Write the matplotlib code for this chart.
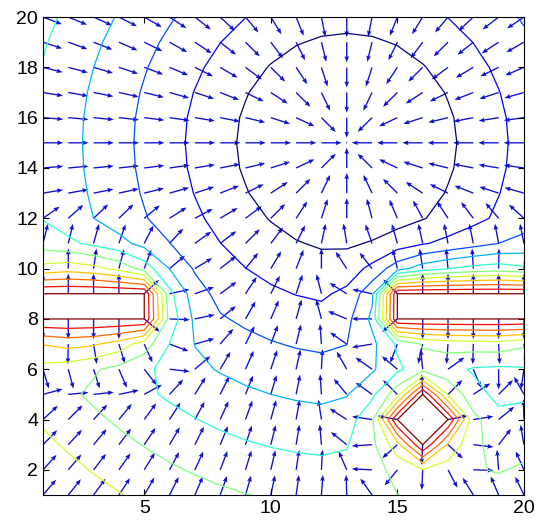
import numpy as np
import matplotlib.pyplot as plt

# grid (1..20 in both directions, step 1)
xs = np.arange(1, 21)
ys = np.arange(1, 21)

# goal and obstacle cells
goal = (13, 15)
left_wall_x = [1, 2, 3, 4, 5]
right_wall_x = [15, 16, 17, 18, 19, 20]
wall_y = [8, 9]
post_cells = [(16, 4), (15, 4), (17, 4), (16, 3), (16, 5)]

# contour levels (dark blue near the goal ... dark red at the obstacles)
levels = [4.35, 6.38, 8.41, 10.44, 12.47, 14.5, 16.53, 18.56, 20.59, 22.62, 24.65]

eta = 2.9     # repulsive gain
rho0 = 3.0    # influence distance of an obstacle cell

X, Y = np.meshgrid(xs, ys)
obstacles = [(x, y) for x in left_wall_x + right_wall_x for y in wall_y] + post_cells

# attractive (conic) + repulsive potential
U = np.hypot(X - goal[0], Y - goal[1])
for ox, oy in obstacles:
    rho = np.hypot(X - ox, Y - oy)
    rho[rho == 0] = np.inf
    U = U + eta * np.clip(1 / rho - 1 / rho0, 0, None)

umax = levels[-1] + 0.01
U = np.minimum(U, umax)
for ox, oy in obstacles:
    U[oy - 1, ox - 1] = umax

# force = -grad U, normalised
gy, gx = np.gradient(U)
mag = np.hypot(gx, gy)
mag[mag == 0] = 1
u = -gx / mag
v = -gy / mag

fig = plt.figure(figsize=(5.37, 5.27), dpi=100)
ax = fig.add_axes([0.080, 0.0607, 0.8957, 0.907])

ax.contour(X, Y, U, levels=levels, cmap='jet', linewidths=0.9)
ax.quiver(X, Y, u, v, color='#1010d0', angles='xy', scale_units='xy', scale=1 / 0.8,
          width=0.0028, headwidth=3.5, headlength=4.5, headaxislength=4)

ax.set_xlim(1, 20)
ax.set_ylim(1, 20)
ax.set_xticks([5, 10, 15, 20])
ax.set_yticks(range(2, 21, 2))
ax.tick_params(direction='in', top=True, right=True, length=4, labelsize=14)
for lab in ax.get_xticklabels() + ax.get_yticklabels():
    lab.set_family('Liberation Sans')

fig.savefig('out.png', dpi=100)
